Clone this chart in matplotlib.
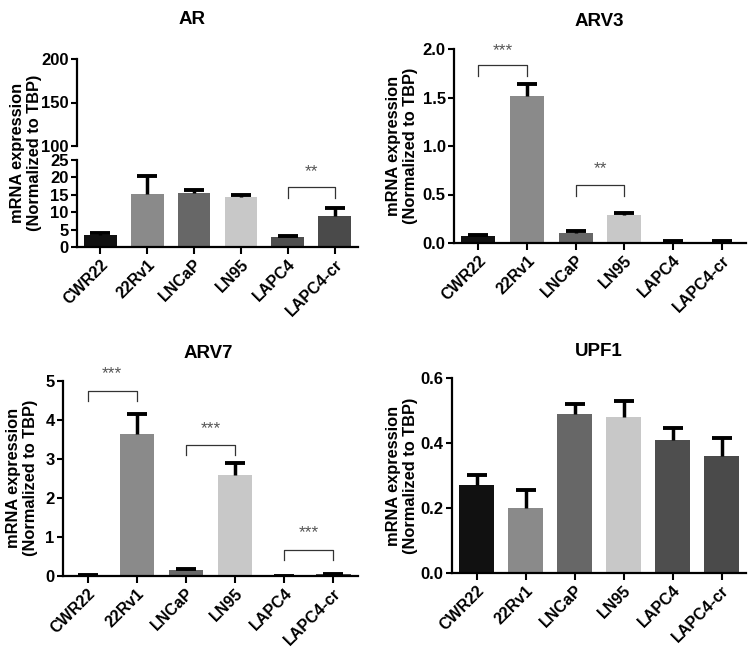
import numpy as np
import matplotlib
matplotlib.use("Agg")
import matplotlib.pyplot as plt

plt.rcParams['font.family'] = ['Liberation Sans', 'DejaVu Sans']

categories = ["CWR22", "22Rv1", "LNCaP", "LN95", "LAPC4", "LAPC4-cr"]
bar_colors = ["#111111", "#8a8a8a", "#676767", "#c8c8c8", "#4e4e4e", "#4a4a4a"]

ar_vals = [3.5, 15.2, 15.5, 14.3, 3.0, 9.0]
ar_err = [0.5, 5.3, 1.0, 0.5, 0.2, 2.2]

arv3_vals = [0.07, 1.52, 0.10, 0.29, 0.015, 0.015]
arv3_err = [0.01, 0.12, 0.02, 0.02, 0.005, 0.008]

arv7_vals = [0.03, 3.65, 0.15, 2.58, 0.0, 0.04]
arv7_err = [0.005, 0.50, 0.02, 0.32, 0.0, 0.02]

upf1_vals = [0.27, 0.20, 0.49, 0.48, 0.41, 0.36]
upf1_err = [0.032, 0.055, 0.03, 0.05, 0.035, 0.055]

W, H = 755, 648
fig = plt.figure(figsize=(W / 100, H / 100), dpi=100)

def rect(left, bottom, top, width):
    return [left / W, 1 - bottom / H, width / W, (bottom - top) / H]

def style(ax, bottom_spine=True):
    for s in ['top', 'right']:
        ax.spines[s].set_visible(False)
    ax.spines['left'].set_linewidth(1.6)
    ax.spines['bottom'].set_linewidth(1.6)
    if not bottom_spine:
        ax.spines['bottom'].set_visible(False)
    ax.tick_params(axis='y', direction='out', length=4, width=1.5, labelsize=12, pad=2)
    ax.tick_params(axis='x', direction='out', length=5, width=1.5, pad=2)
    for lbl in ax.get_yticklabels():
        lbl.set_fontweight('bold')

def bars(ax, vals, err):
    x = np.arange(len(categories))
    ax.bar(x, vals, width=0.7, color=bar_colors, zorder=2)
    top = np.array(vals) + np.array(err)
    ax.errorbar(x, vals, yerr=[np.zeros(len(vals)), err], fmt='none', ecolor='black',
                elinewidth=2.5, capsize=0, zorder=3)
    ax.plot(x, top, linestyle='none', marker='_', markersize=14, markeredgewidth=2.8,
            color='black', zorder=3)
    ax.set_xlim(-0.5, 5.5)
    ax.set_xticks(x)
    ax.set_xticklabels(categories, rotation=45, ha='right', rotation_mode='anchor',
                       fontweight='bold', fontsize=11.5)

def bracket(ax, i, j, y, leg, stars, star_y):
    ax.plot([i, i, j, j], [y - leg, y, y, y - leg], color='#333333', linewidth=0.9, zorder=4)
    ax.text((i + j) / 2, star_y, stars, ha='center', va='center', fontsize=12.5, color='#555555')

def ylab(xc, yc):
    fig.text(xc / W, 1 - yc / H, "mRNA expression\n(Normalized to TBP)", rotation=90,
             ha='center', va='center', fontsize=11.8, fontweight='bold', linespacing=1.2)

def title(xc, yc, t):
    fig.text(xc / W, 1 - yc / H, t, ha='center', va='center', fontsize=13.5, fontweight='bold')

# AR (broken axis)
ax_lo = fig.add_axes(rect(77, 247, 160, 281))
bars(ax_lo, ar_vals, ar_err)
ax_lo.set_ylim(0, 25)
ax_lo.set_yticks([0, 5, 10, 15, 20, 25])
style(ax_lo)
bracket(ax_lo, 4, 5, 17.2, 3.0, "**", 21.8)

ax_hi = fig.add_axes(rect(77, 146, 59, 281))
ax_hi.set_ylim(100, 200)
ax_hi.set_xlim(-0.5, 5.5)
ax_hi.set_yticks([100, 150, 200])
ax_hi.set_xticks([])
ax_hi.patch.set_alpha(0)
style(ax_hi, bottom_spine=False)
ylab(26, 153)
title(192, 19, "AR")

# ARV3
ax3 = fig.add_axes(rect(454, 243, 49, 292))
bars(ax3, arv3_vals, arv3_err)
ax3.set_ylim(0, 2.0)
ax3.set_yticks([0, 0.5, 1.0, 1.5, 2.0])
ax3.set_yticklabels(["0.0", "0.5", "1.0", "1.5", "2.0"])
style(ax3)
bracket(ax3, 0, 1, 1.84, 0.12, "***", 1.98)
bracket(ax3, 2, 3, 0.60, 0.12, "**", 0.77)
ylab(402, 146)
title(599, 21, "ARV3")

# ARV7
ax7 = fig.add_axes(rect(63, 576, 381, 295))
bars(ax7, arv7_vals, arv7_err)
ax7.set_ylim(0, 5)
ax7.set_yticks([0, 1, 2, 3, 4, 5])
style(ax7)
bracket(ax7, 0, 1, 4.75, 0.25, "***", 5.18)
bracket(ax7, 2, 3, 3.36, 0.25, "***", 3.78)
bracket(ax7, 4, 5, 0.67, 0.25, "***", 1.1)
ylab(22, 478)
title(208, 353, "ARV7")

# UPF1
axu = fig.add_axes(rect(452, 573, 378, 294))
bars(axu, upf1_vals, upf1_err)
axu.set_ylim(0, 0.6)
axu.set_yticks([0, 0.2, 0.4, 0.6])
axu.set_yticklabels(["0.0", "0.2", "0.4", "0.6"])
style(axu)
ylab(402, 476)
title(599, 352, "UPF1")

fig.savefig("out.png", dpi=100)
